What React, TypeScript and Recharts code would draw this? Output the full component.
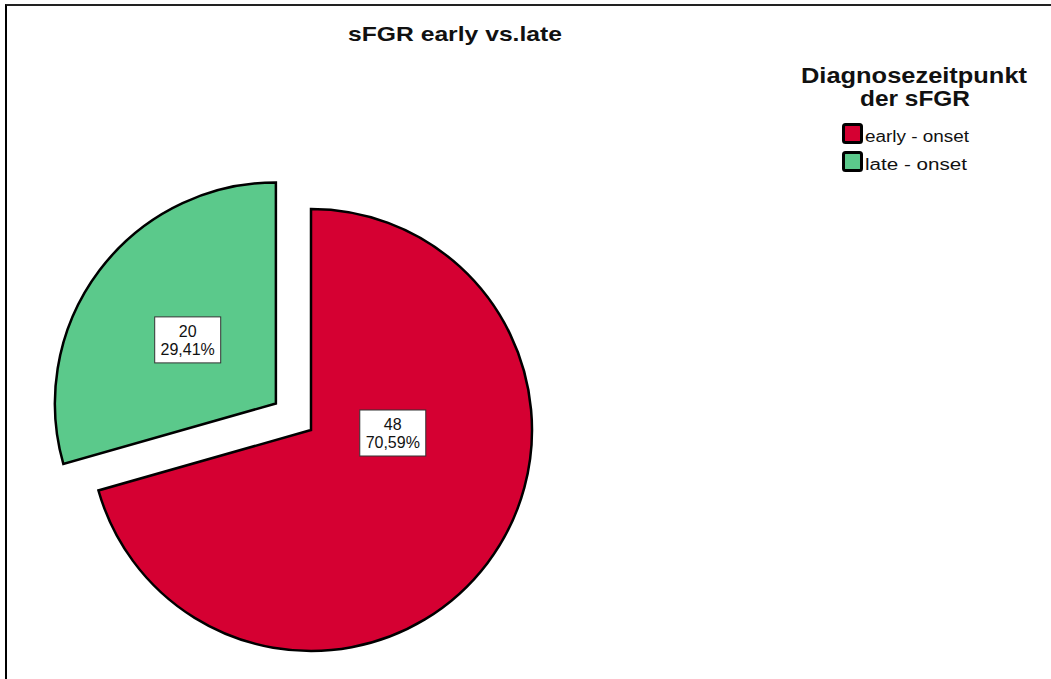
import React from 'react';
import { PieChart, Pie, Cell, Legend } from 'recharts';

const CATEGORIES = ['early - onset', 'late - onset'];
const COUNTS = [48, 20];
const COLORS = ['#D50032', '#5BC98B'];

const TITLE = 'sFGR early vs.late';
const LEGEND_TITLE = ['Diagnosezeitpunkt', 'der sFGR'];

const WIDTH = 1051;
const HEIGHT = 679;
const CX = 311;
const CY = 430;
const RADIUS = 221;
const EXPLODE = 44;
const EXPLODED_INDEX = 1;

const RADIAN = Math.PI / 180;

const data = CATEGORIES.map((name, i) => ({ name, value: COUNTS[i] }));
const total = COUNTS.reduce((a, b) => a + b, 0);

// slice angles, clockwise from 12 o'clock (recharts polar convention)
const sliceAngles = (() => {
  let acc = 0;
  return COUNTS.map((v) => {
    const start = 90 - (acc / total) * 360;
    acc += v;
    const end = 90 - (acc / total) * 360;
    return { start, end, mid: (start + end) / 2 };
  });
})();

const explodeMid = sliceAngles[EXPLODED_INDEX].mid;
const EX_CX = CX + EXPLODE * Math.cos(-explodeMid * RADIAN);
const EX_CY = CY + EXPLODE * Math.sin(-explodeMid * RADIAN);

const fmtPct = (p: number) => (p * 100).toFixed(2).replace('.', ',') + '%';

const makeLabel = (visibleIndex: number) => (props: any) => {
  const { cx, cy, outerRadius, index, value } = props;
  if (index !== visibleIndex) return null;
  const a = sliceAngles[index];
  // big slice that covers 3 o'clock gets its label on the horizontal
  const coversEast = a.start >= 0 && a.end <= 0;
  const angle = coversEast ? 0 : a.mid;
  const r = outerRadius * (coversEast ? 0.37 : 0.5);
  const x = cx + r * Math.cos(-angle * RADIAN);
  const y = cy + r * Math.sin(-angle * RADIAN) + 3;
  const w = 66;
  const h = 46;
  return (
    <g>
      <rect x={x - w / 2} y={y - h / 2} width={w} height={h} fill="#fff" stroke="#333" strokeWidth={1} />
      <text x={x} y={y - 3} textAnchor="middle" fontSize={16} fill="#111" fontFamily="Liberation Sans, Arial, sans-serif">
        {value}
      </text>
      <text x={x} y={y + 15} textAnchor="middle" fontSize={16} fill="#111" fontFamily="Liberation Sans, Arial, sans-serif">
        {fmtPct(value / total)}
      </text>
    </g>
  );
};

const LegendBox = () => (
  <svg width={260} height={180} style={{ overflow: 'visible' }}>
    <g fontFamily="Liberation Sans, Arial, sans-serif" fill="#111">
      <text x={115} y={30} textAnchor="middle" fontSize={22} fontWeight="bold" textLength={226} lengthAdjust="spacingAndGlyphs">
        {LEGEND_TITLE[0]}
      </text>
      <text x={116} y={53} textAnchor="middle" fontSize={22} fontWeight="bold" textLength={110} lengthAdjust="spacingAndGlyphs">
        {LEGEND_TITLE[1]}
      </text>
      {CATEGORIES.map((c, i) => (
        <g key={c}>
          <rect x={44.5} y={71.5 + i * 28} width={18} height={18} rx={2} fill={COLORS[i]} stroke="#000" strokeWidth={3} />
          <text x={66} y={89 + i * 28} fontSize={16} textLength={i === 0 ? 104 : 102} lengthAdjust="spacingAndGlyphs">
            {c}
          </text>
        </g>
      ))}
    </g>
  </svg>
);

export default function App() {
  return (
    <div style={{ position: 'absolute', left: 0, top: 0, width: WIDTH, height: HEIGHT, background: '#fff' }}>
      <div
        style={{
          position: 'absolute',
          left: 5,
          top: 4,
          width: WIDTH - 5,
          height: HEIGHT - 4,
          borderTop: '2px solid #222',
          borderLeft: '2px solid #000',
          boxSizing: 'border-box',
        }}
      />
      <PieChart
        width={WIDTH}
        height={HEIGHT}
        margin={{ top: 0, right: 0, bottom: 0, left: 0 }}
        style={{ position: 'absolute', left: 0, top: 0 }}
      >
        <text
          x={455}
          y={41}
          textAnchor="middle"
          fontSize={21}
          fontWeight="bold"
          fill="#111"
          fontFamily="Liberation Sans, Arial, sans-serif"
          textLength={214}
          lengthAdjust="spacingAndGlyphs"
        >
          {TITLE}
        </text>
        <Pie
          data={data}
          dataKey="value"
          nameKey="name"
          cx={CX}
          cy={CY}
          outerRadius={RADIUS}
          startAngle={90}
          endAngle={-270}
          stroke="#000"
          strokeWidth={2.5}
          labelLine={false}
          label={makeLabel(0)}
          isAnimationActive={false}
        >
          {data.map((d, i) => (
            <Cell key={d.name} fill={i === 0 ? COLORS[i] : 'none'} stroke={i === 0 ? '#000' : 'none'} />
          ))}
        </Pie>
        <Pie
          data={data}
          dataKey="value"
          nameKey="name"
          cx={EX_CX}
          cy={EX_CY}
          outerRadius={RADIUS}
          startAngle={90}
          endAngle={-270}
          stroke="#000"
          strokeWidth={2.5}
          labelLine={false}
          label={makeLabel(EXPLODED_INDEX)}
          isAnimationActive={false}
        >
          {data.map((d, i) => (
            <Cell
              key={d.name}
              fill={i === EXPLODED_INDEX ? COLORS[i] : 'none'}
              stroke={i === EXPLODED_INDEX ? '#000' : 'none'}
            />
          ))}
        </Pie>
        <Legend
          content={() => <LegendBox />}
          wrapperStyle={{ position: 'absolute', left: 799, top: 53, width: 260 }}
        />
      </PieChart>
    </div>
  );
}
